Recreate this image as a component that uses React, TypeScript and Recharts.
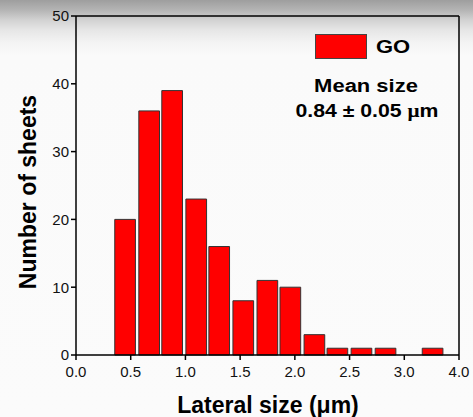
import React from 'react';
import { BarChart, Bar, XAxis, YAxis, ReferenceLine } from 'recharts';

// bin centres (µm) and counts
const binCenters = [0.45, 0.67, 0.88, 1.1, 1.31, 1.53, 1.75, 1.96, 2.18, 2.39, 2.61, 2.83, 3.04, 3.26];
const counts = [20, 36, 39, 23, 16, 8, 11, 10, 3, 1, 1, 1, 0, 1];

const xTicks = [0, 0.5, 1, 1.5, 2, 2.5, 3, 3.5];
const xTickLabels = ['0.0', '0.5', '1.0', '1.5', '2.0', '2.5', '3.0', '4.0'];
const yTicks = [0, 10, 20, 30, 40, 50];

const data = binCenters.map((x, i) => ({ x, count: counts[i] }));

const FONT = '"Liberation Sans", Arial, sans-serif';

const boldText: React.CSSProperties = {
  position: 'absolute',
  fontFamily: FONT,
  fontWeight: 'bold',
  color: '#000',
  whiteSpace: 'nowrap',
  lineHeight: 1,
};

export default function App() {
  return (
    <div
      style={{
        position: 'fixed',
        top: 0,
        left: 0,
        width: 473,
        height: 417,
        background:
          'linear-gradient(#9e9e9e 0px, #b4b4b4 10px, #d2d2d2 20px, #e6e6e6 30px, #f3f3f3 42px, #fafafa 56px, #fbfbfb 100%)',
        overflow: 'hidden',
      }}
    >
      <BarChart
        width={473}
        height={417}
        data={data}
        margin={{ top: 16, right: 14, bottom: 32, left: 26 }}
      >
        <XAxis
          dataKey="x"
          type="number"
          domain={[0, 3.5]}
          ticks={xTicks}
          tickFormatter={(v: number, i: number) => xTickLabels[i]}
          height={30}
          tickSize={5}
          tick={{ fill: '#111', fontSize: 15, fontFamily: FONT, dy: 4 }}
          axisLine={{ stroke: '#000', strokeWidth: 1.5 }}
          tickLine={{ stroke: '#000', strokeWidth: 1.5 }}
          interval={0}
        />
        <YAxis
          domain={[0, 50]}
          ticks={yTicks}
          width={50}
          tickSize={5}
          tick={{ fill: '#111', fontSize: 15, fontFamily: FONT }}
          axisLine={{ stroke: '#000', strokeWidth: 1.5 }}
          tickLine={{ stroke: '#000', strokeWidth: 1.5 }}
          interval={0}
        />
        <ReferenceLine y={50} stroke="#000" strokeWidth={1.5} ifOverflow="visible" />
        <ReferenceLine x={3.5} stroke="#000" strokeWidth={1.5} ifOverflow="visible" />
        <Bar
          dataKey="count"
          barSize={24}
          fill="#ff0000"
          stroke="#333"
          strokeWidth={1}
          isAnimationActive={false}
        />
      </BarChart>

      {/* axis titles */}
      <div
        style={{
          ...boldText,
          fontSize: 23,
          left: 28,
          top: 192,
          transform: 'translate(-50%, -50%) rotate(-90deg)',
        }}
      >
        Number of sheets
      </div>
      <div
        style={{
          ...boldText,
          fontSize: 23,
          left: 268,
          top: 405,
          transform: 'translate(-50%, -50%)',
        }}
      >
        Lateral size (μm)
      </div>

      {/* legend + annotation */}
      <div
        style={{
          position: 'absolute',
          left: 315,
          top: 34,
          width: 52,
          height: 25,
          background: '#ff0000',
          border: '1px solid #444',
          boxSizing: 'border-box',
        }}
      />
      <div
        style={{
          ...boldText,
          fontSize: 18,
          left: 376,
          top: 47,
          transform: 'translateY(-50%) scaleX(1.22)',
          transformOrigin: 'left center',
        }}
      >
        GO
      </div>
      <div
        style={{
          ...boldText,
          fontSize: 18,
          left: 366,
          top: 86,
          transform: 'translate(-50%, -50%) scaleX(1.22)',
        }}
      >
        Mean size
      </div>
      <div
        style={{
          ...boldText,
          fontSize: 18,
          left: 367,
          top: 111,
          transform: 'translate(-50%, -50%) scaleX(1.18)',
        }}
      >
        0.84 ± 0.05 <span style={{ fontFamily: '"Liberation Serif", serif' }}>μ</span>m
      </div>
    </div>
  );
}
